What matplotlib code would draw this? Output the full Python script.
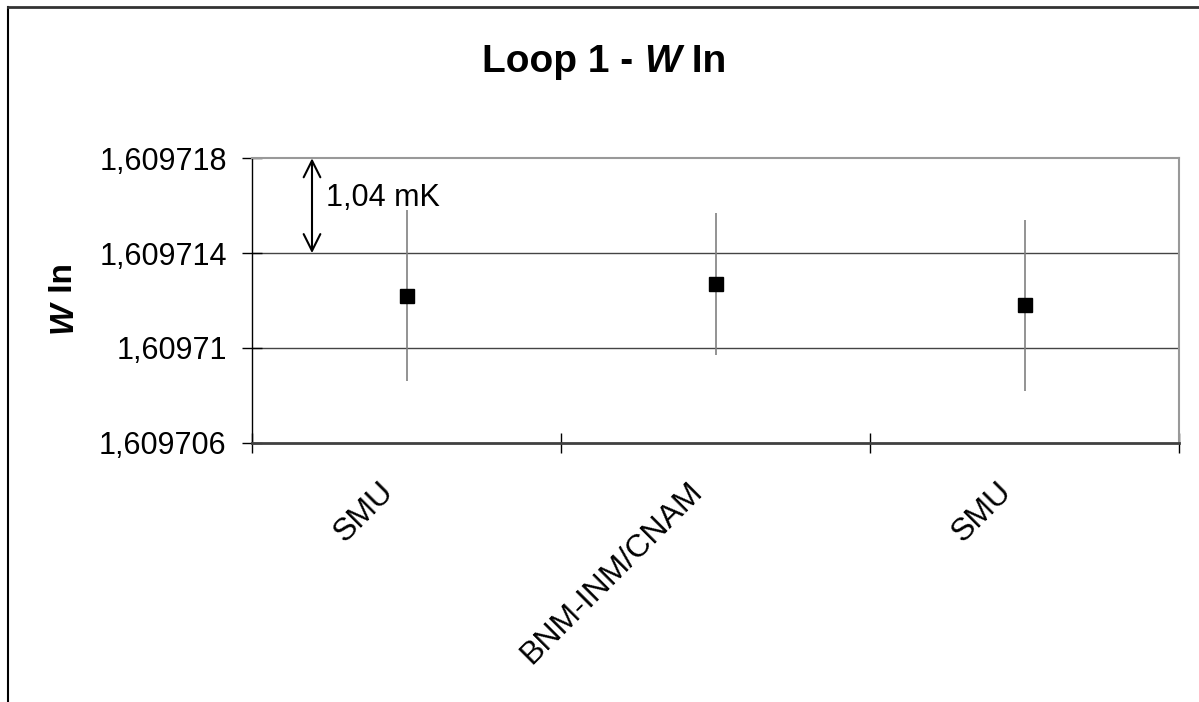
import matplotlib
matplotlib.use('Agg')
import matplotlib.pyplot as plt
from matplotlib.lines import Line2D
from matplotlib.ticker import FixedLocator, FuncFormatter
from matplotlib.transforms import ScaledTranslation

# data
labs = ['SMU', 'BNM-INM/CNAM', 'SMU']
vals = [1.6097122, 1.6097127, 1.6097118]
errs = [3.6e-6, 3.0e-6, 3.6e-6]
yticks = [1.609706, 1.60971, 1.609714, 1.609718]
span_lo, span_hi = 1.609714, 1.609718   # the 1,04 mK arrow
span_txt = '1,04 mK'

FONT = 'Liberation Sans'
plt.rcParams['font.family'] = [FONT, 'DejaVu Sans']

W, H, DPI = 1199, 702, 100
fig = plt.figure(figsize=(W / DPI, H / DPI), dpi=DPI)
ax = fig.add_axes([252 / W, 1 - 442.7 / H, (1179 - 252) / W, (442.7 - 158.3) / H])

x = list(range(len(labs)))
ax.errorbar(x, vals, yerr=errs, fmt='none', ecolor='#808080', elinewidth=1.2, capsize=0, zorder=3)
ax.plot(x, vals, 's', color='black', ms=10, zorder=4)

ax.set_xlim(-0.5, len(labs) - 0.5)
ax.set_ylim(yticks[0], yticks[-1])

# y axis
ax.yaxis.set_major_locator(FixedLocator(yticks))
ax.yaxis.set_major_formatter(FuncFormatter(lambda v, p: f'{v:.6f}'.rstrip('0').replace('.', ',')))
ax.tick_params(axis='y', direction='inout', length=14.4, width=1, color='black', labelsize=22, pad=11)
for yv in yticks[1:-1]:
    ax.axhline(yv, color='#444444', lw=1, zorder=1)

# x axis: ticks on category boundaries, labels drawn by hand
ax.set_xticks([i - 0.5 for i in range(len(labs) + 1)])
ax.set_xticklabels([])
ax.tick_params(axis='x', direction='inout', length=14.4, width=1, color='black')
off = ScaledTranslation(-28 / DPI, -34 / DPI, fig.dpi_scale_trans)
for i, name in enumerate(labs):
    ax.text(i, 0, name, transform=ax.get_xaxis_transform() + off, rotation=45,
            rotation_mode='anchor', ha='right', va='top', fontsize=23)

for s in ['top', 'right']:
    ax.spines[s].set_color('#999999')
    ax.spines[s].set_linewidth(1.5)
ax.spines['left'].set_color('black')
ax.spines['left'].set_linewidth(1)
ax.spines['bottom'].set_color('#404040')
ax.spines['bottom'].set_linewidth(2)

# span arrow
ax_x = -0.5 + (312 - 252) / ((1179 - 252) / len(labs))
ax.annotate('', xy=(ax_x, span_hi), xytext=(ax_x, span_lo),
            arrowprops=dict(arrowstyle='<->', lw=1.5, color='black', shrinkA=0, shrinkB=0,
                            mutation_scale=30))
txt_x = -0.5 + (326 - 252) / ((1179 - 252) / len(labs))
ax.text(txt_x, 1.609716, span_txt, fontsize=22, va='baseline', ha='left')


def rich(parts, x_px, y_px, size, rot=0):
    # place text pieces with mixed styles next to each other, centred on x_px (or y_px if rotated)
    fig.canvas.draw()
    r = fig.canvas.get_renderer()
    ws = []
    for s, st in parts:
        t = fig.text(0, 0, s, fontsize=size, fontweight='bold', fontstyle=st)
        ws.append(t.get_window_extent(r).width)
        t.remove()
    tot = sum(ws)
    pos = -tot / 2
    for (s, st), w in zip(parts, ws):
        if rot == 0:
            fx, fy = (x_px + pos) / W, 1 - y_px / H
        else:
            fx, fy = x_px / W, 1 - (y_px - pos) / H
        fig.text(fx, fy, s, fontsize=size, fontweight='bold', fontstyle=st, rotation=rot,
                 rotation_mode='anchor', ha='left', va='baseline')
        pos += w


rich([('Loop 1 - ', 'normal'), ('W', 'italic'), (' In', 'normal')], 604, 72, 28)
rich([('W', 'italic'), (' In', 'normal')], 72, 298, 24, rot=90)

# chart frame (only top and left visible in the crop)
fig.add_artist(Line2D([7.5 / W, 7.5 / W], [0, 1 - 6.5 / H], transform=fig.transFigure, color='black', lw=1.5))
fig.add_artist(Line2D([7.5 / W, 1], [1 - 6.5 / H, 1 - 6.5 / H], transform=fig.transFigure, color='#333333', lw=2))

fig.savefig('out.png', dpi=DPI)
